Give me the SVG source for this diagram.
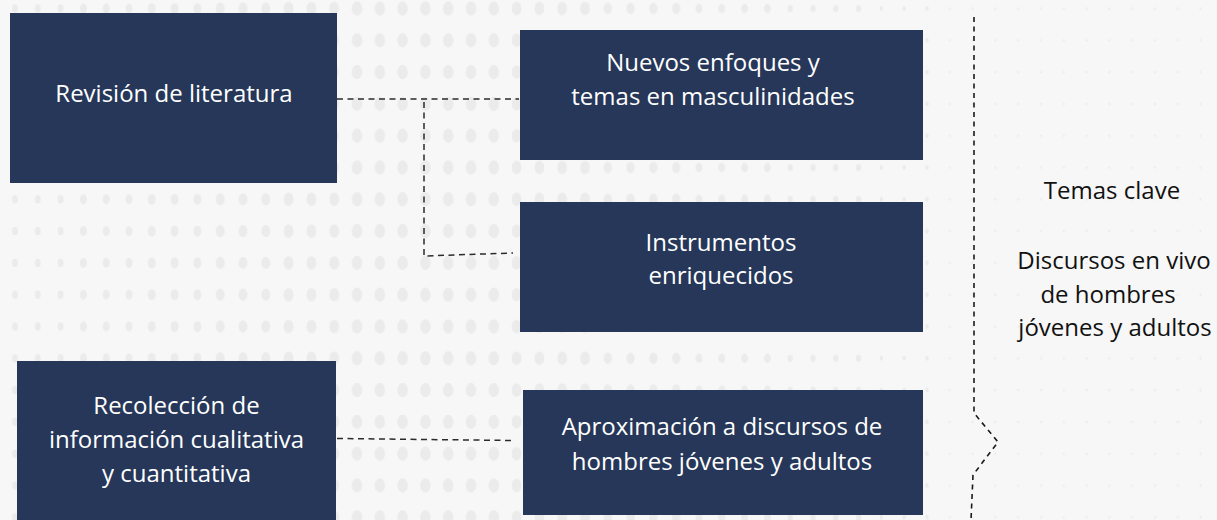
<svg xmlns="http://www.w3.org/2000/svg" width="1217" height="520" viewBox="0 0 1217 520">
<style>
.box{fill:#263759}
.lbl{font-family:"Open Sans","Noto Sans",sans-serif;font-size:24px;fill:#ffffff;text-anchor:middle}
.side{font-family:"Open Sans","Noto Sans",sans-serif;font-size:24px;fill:#111111;text-anchor:middle}
.dash{fill:none;stroke:#2b2b2b;stroke-width:1.5;stroke-dasharray:6 4.5}
.brk{fill:none;stroke:#1a1a1a;stroke-width:1.6;stroke-dasharray:5 4.5}
.dot{fill:#ebebeb}
</style>
<defs>
<pattern id="d1" patternUnits="userSpaceOnUse" x="3.6" y="-7.4" width="22.8" height="31.8"><ellipse class="dot" cx="11.4" cy="15.9" rx="3" ry="4.3"/></pattern>
<pattern id="d2" patternUnits="userSpaceOnUse" x="3.6" y="-7.4" width="22.8" height="31.8"><ellipse class="dot" cx="11.4" cy="15.9" rx="3.5" ry="4.9"/></pattern>
<pattern id="d3" patternUnits="userSpaceOnUse" x="3.6" y="-7.4" width="22.8" height="31.8"><ellipse class="dot" cx="11.4" cy="15.9" rx="4" ry="5.5"/></pattern>
<pattern id="d4" patternUnits="userSpaceOnUse" x="3.6" y="-7.4" width="22.8" height="31.8"><ellipse class="dot" cx="11.4" cy="15.9" rx="4.5" ry="6.1"/></pattern>
<pattern id="d5" patternUnits="userSpaceOnUse" x="3.6" y="-7.4" width="22.8" height="31.8"><ellipse class="dot" cx="11.4" cy="15.9" rx="5" ry="6.8"/></pattern>
<pattern id="d6" patternUnits="userSpaceOnUse" x="3.6" y="-7.4" width="22.8" height="31.8"><ellipse class="dot" cx="11.4" cy="15.9" rx="5.3" ry="7.2"/></pattern>
<pattern id="d7" patternUnits="userSpaceOnUse" x="3.6" y="-7.4" width="22.8" height="31.8"><ellipse class="dot" cx="11.4" cy="15.9" rx="4.9" ry="6.7"/></pattern>
<pattern id="d8" patternUnits="userSpaceOnUse" x="3.6" y="-7.4" width="22.8" height="31.8"><ellipse class="dot" cx="11.4" cy="15.9" rx="4.2" ry="5.7"/></pattern>
<pattern id="d9" patternUnits="userSpaceOnUse" x="3.6" y="-7.4" width="22.8" height="31.8"><ellipse class="dot" cx="11.4" cy="15.9" rx="3.5" ry="4.7"/></pattern>
<pattern id="d10" patternUnits="userSpaceOnUse" x="3.6" y="-7.4" width="22.8" height="31.8"><ellipse class="dot" cx="11.4" cy="15.9" rx="2.7" ry="3.6"/></pattern>
<pattern id="d11" patternUnits="userSpaceOnUse" x="3.6" y="-7.4" width="22.8" height="31.8"><ellipse class="dot" cx="11.4" cy="15.9" rx="1.8" ry="2.4"/></pattern>
<pattern id="d12" patternUnits="userSpaceOnUse" x="3.6" y="-7.4" width="22.8" height="31.8"><ellipse cx="11.4" cy="15.9" rx="1.2" ry="1.5" fill="#ededed"/></pattern>
</defs>
<g id="background">
<rect x="0" y="0" width="1217" height="520" fill="#f7f7f7"/>
<rect x="0" y="0" width="72" height="520" fill="url(#d1)"/>
<rect x="72" y="0" width="68.4" height="520" fill="url(#d2)"/>
<rect x="140.4" y="0" width="68.4" height="520" fill="url(#d3)"/>
<rect x="208.8" y="0" width="68.4" height="520" fill="url(#d4)"/>
<rect x="277.2" y="0" width="68.4" height="520" fill="url(#d5)"/>
<rect x="345.6" y="0" width="159.6" height="520" fill="url(#d6)"/>
<rect x="505.2" y="0" width="91.2" height="520" fill="url(#d7)"/>
<rect x="596.4" y="0" width="91.2" height="520" fill="url(#d8)"/>
<rect x="687.6" y="0" width="91.2" height="520" fill="url(#d9)"/>
<rect x="778.8" y="0" width="91.2" height="520" fill="url(#d10)"/>
<rect x="870" y="0" width="68.4" height="520" fill="url(#d11)"/>
<rect x="938.4" y="0" width="278.6" height="520" fill="url(#d12)"/>
</g>
<g id="connectors">
<path class="dash" d="M337,99 L519,99"/>
<path class="dash" d="M424,102 L424,256 L513,253"/>
<path class="dash" d="M337,438.5 L514,440.5"/>
<path class="brk" d="M974,17 L974,413 L998,442 L973,475 L971,520"/>
</g>
<g id="n-revision">
<rect class="box" x="10" y="13" width="327" height="170"/>
<text class="lbl" x="174" y="102">Revisión de literatura</text>
</g>
<g id="n-nuevos">
<rect class="box" x="520" y="30" width="403" height="130"/>
<text class="lbl" x="713" y="71">Nuevos enfoques y</text>
<text class="lbl" x="713" y="105">temas en masculinidades</text>
</g>
<g id="n-instrumentos">
<rect class="box" x="520" y="202" width="403" height="130"/>
<text class="lbl" x="721" y="251">Instrumentos</text>
<text class="lbl" x="721" y="284">enriquecidos</text>
</g>
<g id="n-recoleccion">
<rect class="box" x="17" y="361" width="319" height="159"/>
<text class="lbl" x="176.5" y="414">Recolección de</text>
<text class="lbl" x="176.5" y="448">información cualitativa</text>
<text class="lbl" x="176.5" y="482">y cuantitativa</text>
</g>
<g id="n-aproximacion">
<rect class="box" x="523" y="390" width="400" height="125"/>
<text class="lbl" x="722" y="435">Aproximación a discursos de</text>
<text class="lbl" x="722" y="470">hombres jóvenes y adultos</text>
</g>
<g id="n-temas">
<text class="side" x="1112" y="199">Temas clave</text>
<text class="side" x="1114" y="269">Discursos en vivo</text>
<text class="side" x="1108" y="303">de hombres</text>
<text class="side" x="1115" y="336">jóvenes y adultos</text>
</g>
</svg>
